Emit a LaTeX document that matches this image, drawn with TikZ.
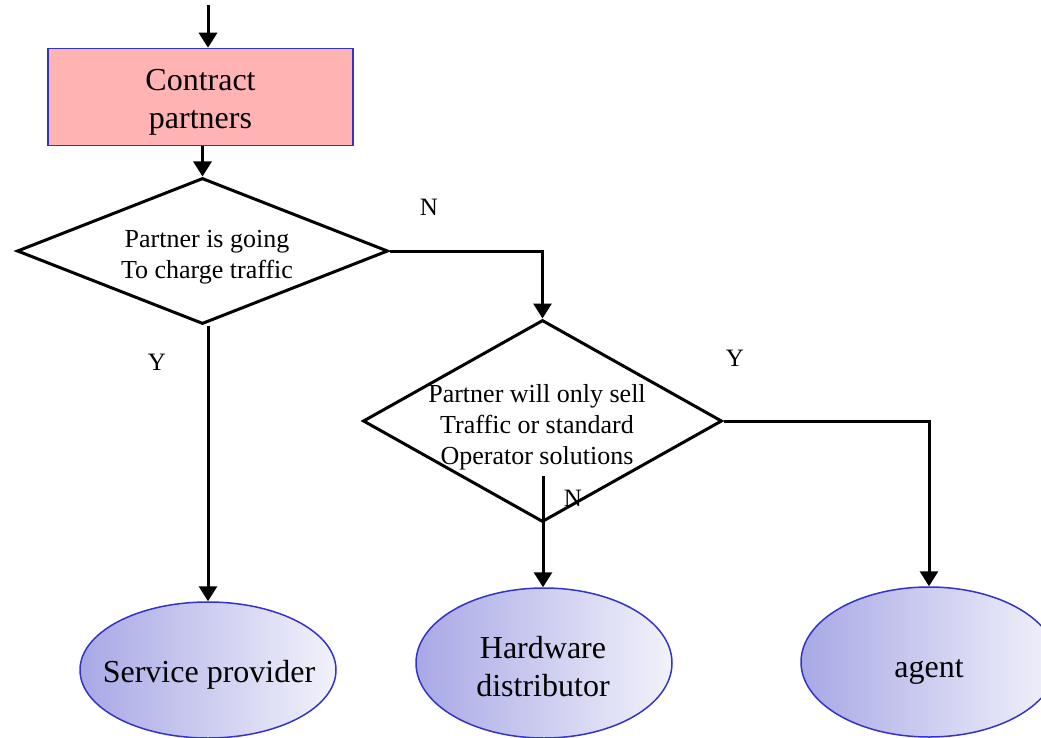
\documentclass[tikz,border=0pt]{standalone}
\usepackage{fontspec}
\setmainfont{Liberation Serif}
\usetikzlibrary{shapes.geometric,arrows.meta}
\definecolor{boxpink}{HTML}{FFB3B3}
\definecolor{edgeblue}{HTML}{3333CC}
\definecolor{ovalleft}{HTML}{A8A8E6}
\definecolor{ovalright}{HTML}{F2F2FB}
\tikzset{
  conn/.style={line width=3pt,-{Triangle[length=15pt,width=18pt]}},
  procbox/.style={rectangle,draw=edgeblue,line width=1.5pt,fill=boxpink,
    minimum width=305pt,minimum height=97pt,inner sep=0pt},
  decision/.style={diamond,draw=black,line width=3pt,inner sep=0pt},
  outcome/.style={ellipse,draw=edgeblue,line width=1.5pt,inner sep=0pt,
    left color=ovalleft,right color=ovalright,
    minimum width=256pt},
  bigtext/.style={align=center,font=\fontsize{32}{38}\selectfont},
  smalltext/.style={align=center,font=\fontsize{26}{31}\selectfont},
  yn/.style={font=\fontsize{25}{30}\selectfont},
}
\begin{document}
\begin{tikzpicture}[x=1pt,y=-1pt]
\useasboundingbox (0,0) rectangle (1041,738);

% process box
\node[procbox] (box) at (200.5,97) {};
\node[bigtext] (boxtxt) at (200.5,102.5) {Contract\\partners};

% decisions
\node[decision,minimum width=371pt,minimum height=146pt] (d1) at (202.5,251) {};
\node[smalltext] (d1txt) at (207,257) {Partner is going\\To charge traffic};
\node[decision,minimum width=359pt,minimum height=202pt] (d2) at (542.5,421) {};
\node[smalltext] (d2txt) at (537,427) {Partner will only sell\\Traffic or standard\\Operator solutions};

% outcomes
\node[outcome,minimum height=136pt] (e1) at (208,670) {};
\node[bigtext] (e1txt) at (209,675) {Service provider};
\node[outcome,minimum height=150pt] (e2) at (544,663) {};
\node[bigtext] (e2txt) at (543,667) {Hardware\\distributor};
\node[outcome,minimum height=150pt] (e3) at (929,662) {};
\node[bigtext] (e3txt) at (929,672) {agent};

% connectors
\coordinate (start) at (208,5);
\draw[conn] (start) -- (start |- box.north);
\draw[conn] (box.south -| d1.north) -- (d1.north);
\draw[conn] (d1.east) -| (d2.north);
\draw[conn] (d1.south -| e1.north) -- (e1.north);
\draw[conn] (d2.east) -| (e3.north);
\coordinate (nstart) at (543,476);
\draw[conn] (nstart) -- (nstart |- e2.north);

% branch labels
\node[yn] (n1) at (429,207) {N};
\node[yn] (y1) at (157,362) {Y};
\node[yn] (y2) at (735,358) {Y};
\node[yn] (n2) at (573,498) {N};
\end{tikzpicture}
\end{document}
